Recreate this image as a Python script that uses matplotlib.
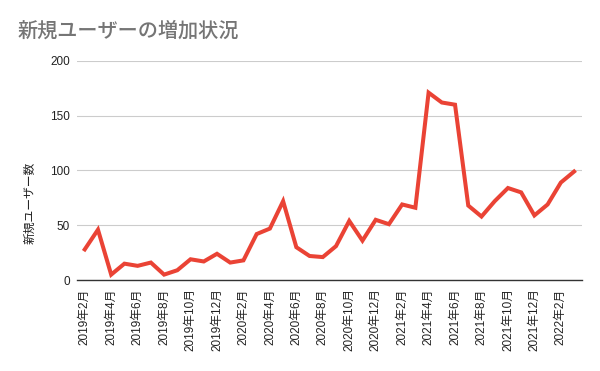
import matplotlib
matplotlib.use('Agg')
import matplotlib.pyplot as plt

plt.rcParams['font.family'] = ['Liberation Sans', 'Noto Sans CJK JP']

# Monthly data, 2019-02 .. 2022-03
months = []
for y in (2019, 2020, 2021, 2022):
    for m in range(1, 13):
        if (y == 2019 and m < 2) or (y == 2022 and m > 3):
            continue
        months.append(f"{y}年{m}月")

new_users = [28, 46, 5, 15, 13, 16, 5, 9, 19, 17, 24, 16, 18, 42, 47, 72, 30, 22, 21,
             31, 54, 36, 55, 51, 69, 66, 171, 162, 160, 68, 58, 72, 84, 80, 59, 69, 89, 99]

title = "新規ユーザーの増加状況"
ylabel = "新規ユーザー数"

fig = plt.figure(figsize=(6, 3.71), dpi=100)
ax = fig.add_axes([0.128, 0.245, 0.842, 0.591])

x = list(range(len(months)))
ax.plot(x, new_users, color='#ea4335', linewidth=2.9, solid_joinstyle='miter')

ax.set_ylim(0, 200)
ax.set_yticks([0, 50, 100, 150, 200])
ax.set_xlim(-0.6, len(months) - 0.4)
ax.set_xticks(x[::2])
ax.set_xticklabels(months[::2], rotation=90, fontsize=8.5, color='#222222')
ax.tick_params(axis='y', labelsize=8.5, colors='#222222', length=0, pad=5)
ax.tick_params(axis='x', length=0, pad=6)

ax.grid(axis='y', color='#cccccc', linewidth=0.8)
ax.set_axisbelow(True)
for s in ('top', 'right', 'left'):
    ax.spines[s].set_visible(False)
ax.spines['bottom'].set_color('#333333')
ax.spines['bottom'].set_linewidth(1)

fig.text(0.03, 1 - 31 / 371, title, fontsize=14.5, fontweight='medium', color='#757575',
         va='center', ha='left')
fig.text(0.05, 1 - 203 / 371, ylabel, fontsize=8.5, color='#222222', rotation=90,
         va='center', ha='center')

fig.savefig('out.png', dpi=100)
